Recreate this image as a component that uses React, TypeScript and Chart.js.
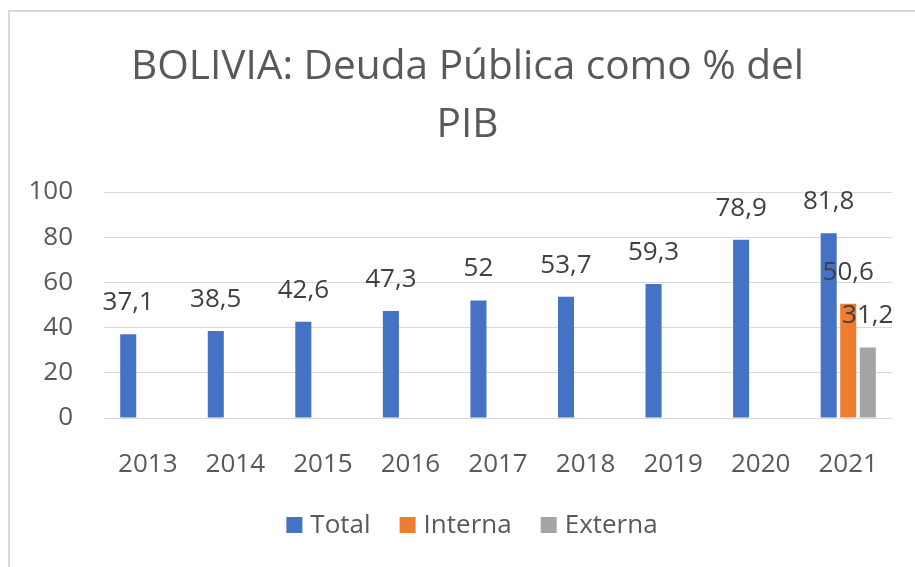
import React, { useEffect, useRef } from "react";
import { Chart, registerables } from "chart.js";

Chart.register(...registerables);

const categories = ["2013", "2014", "2015", "2016", "2017", "2018", "2019", "2020", "2021"];
const totalValues = [37.1, 38.5, 42.6, 47.3, 52, 53.7, 59.3, 78.9, 81.8];
const internaValues = [null, null, null, null, null, null, null, null, 50.6];
const externaValues = [null, null, null, null, null, null, null, null, 31.2];
const seriesNames = ["Total", "Interna", "Externa"];
const seriesColors = ["#4472C4", "#ED7D31", "#A5A5A5"];
const titleLines = ["BOLIVIA: Deuda Pública como % del", "PIB"];
const yMin = 0;
const yMax = 100;
const yStep = 20;

const FONT = "'Open Sans', sans-serif";

const decorPlugin = {
  id: "decor",
  afterDatasetsDraw(chart: any) {
    const ctx = chart.ctx;
    ctx.save();
    // data labels
    ctx.font = `26px ${FONT}`;
    ctx.fillStyle = "#404040";
    ctx.textAlign = "center";
    ctx.textBaseline = "alphabetic";
    chart.data.datasets.forEach((ds: any, i: number) => {
      const meta = chart.getDatasetMeta(i);
      meta.data.forEach((el: any, j: number) => {
        const v = ds.data[j];
        if (v == null) return;
        ctx.fillText(String(v).replace(".", ","), el.x, el.y - 24);
      });
    });
    // title
    ctx.font = `40.6px ${FONT}`;
    ctx.fillStyle = "#595959";
    ctx.fillText(titleLines[0], 467.5, 79);
    ctx.fillText(titleLines[1], 467.5, 137);
    // legend
    ctx.font = `26px ${FONT}`;
    ctx.textAlign = "left";
    const box = 16;
    const gap = 8;
    const spacing = 29;
    const items = chart.data.datasets.map((ds: any) => ({
      label: ds.label,
      color: ds.backgroundColor,
      w: ctx.measureText(ds.label).width,
    }));
    let total = 0;
    items.forEach((it: any, k: number) => {
      total += box + gap + it.w + (k < items.length - 1 ? spacing : 0);
    });
    let x = 472 - total / 2;
    const baseY = 533;
    items.forEach((it: any) => {
      ctx.fillStyle = it.color;
      ctx.fillRect(x, baseY - box, box, box);
      ctx.fillStyle = "#595959";
      ctx.fillText(it.label, x + box + gap, baseY);
      x += box + gap + it.w + spacing;
    });
    ctx.restore();
  },
};

export default function App() {
  const canvasRef = useRef<HTMLCanvasElement | null>(null);

  useEffect(() => {
    let chart: Chart | null = null;
    let cancelled = false;
    const build = () => {
      if (cancelled || !canvasRef.current) return;
      chart = new Chart(canvasRef.current, {
        type: "bar",
        data: {
          labels: categories,
          datasets: [
            { label: seriesNames[0], data: totalValues, backgroundColor: seriesColors[0] },
            { label: seriesNames[1], data: internaValues, backgroundColor: seriesColors[1] },
            { label: seriesNames[2], data: externaValues, backgroundColor: seriesColors[2] },
          ] as any,
        },
        options: {
          responsive: false,
          animation: false,
          datasets: { bar: { categoryPercentage: 0.67, barPercentage: 0.82 } },
          layout: { padding: { left: 0, right: 23, top: 192, bottom: 89 } },
          plugins: {
            legend: { display: false },
            title: { display: false },
            tooltip: { enabled: false },
          },
          scales: {
            x: {
              grid: { display: false },
              border: { display: false },
              ticks: { font: { family: FONT, size: 26 }, color: "#595959", padding: 23 },
              afterFit: (s: any) => {
                s.height = 60;
              },
            },
            y: {
              min: yMin,
              max: yMax,
              grid: { color: "#d9d9d9", lineWidth: 1, drawTicks: false },
              border: { display: false },
              ticks: { stepSize: yStep, font: { family: FONT, size: 26 }, color: "#595959", padding: 31 },
              afterFit: (s: any) => {
                s.width = 104;
              },
            },
          },
        },
        plugins: [decorPlugin],
      });
    };
    const fonts = (document as any).fonts;
    if (fonts && fonts.load) {
      Promise.all([fonts.load(`26px 'Open Sans'`), fonts.load(`40px 'Open Sans'`)])
        .then(build, build);
    } else {
      build();
    }
    return () => {
      cancelled = true;
      if (chart) chart.destroy();
    };
  }, []);

  return (
    <div
      style={{
        position: "fixed",
        left: 0,
        top: 0,
        width: 915,
        height: 567,
        overflow: "hidden",
        background: "#ffffff",
      }}
    >
      <div
        style={{
          position: "absolute",
          left: 8,
          top: 10,
          width: 1000,
          height: 1000,
          borderTop: "2px solid #d9d9d9",
          borderLeft: "2px solid #d9d9d9",
        }}
      />
      <canvas
        ref={canvasRef}
        width={915}
        height={567}
        style={{ position: "absolute", left: 0, top: 0, width: 915, height: 567 }}
      />
    </div>
  );
}
